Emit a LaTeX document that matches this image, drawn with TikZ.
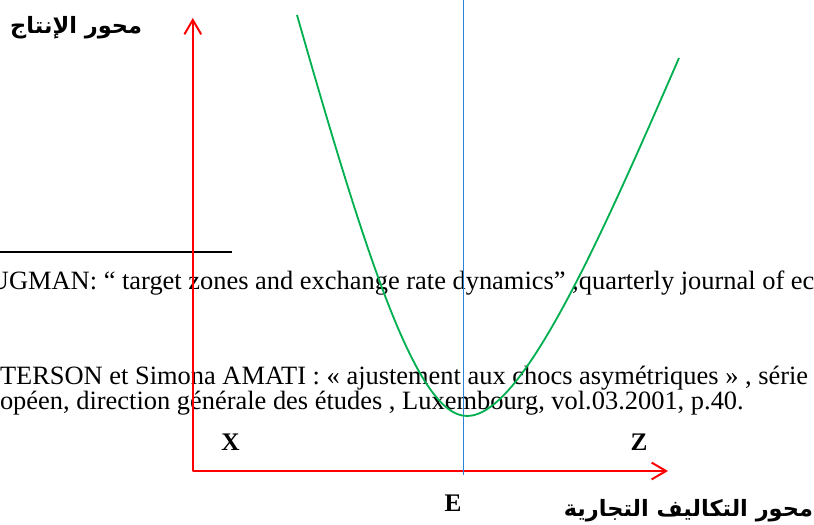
\documentclass[tikz,border=0pt]{standalone}
\usepackage{fontspec}
\setmainfont{Liberation Serif}
\newfontfamily\arabicfont[Script=Arabic]{DejaVu Sans}
\TeXXeTstate=1
\usetikzlibrary{arrows.meta, positioning}
\definecolor{AxisRed}{RGB}{255, 0, 0}
\definecolor{CurveGreen}{RGB}{0, 176, 80}
\definecolor{GuideBlue}{RGB}{40, 130, 215}

\begin{document}
\begin{tikzpicture}[
    every node/.style={inner sep=0pt, outer sep=0pt},
    note/.style={anchor=base west, font=\fontsize{18.8}{22}\selectfont},
    letter/.style={font=\fontsize{18}{21}\selectfont\bfseries},
    axisname/.style={font=\fontsize{16}{20}\selectfont\arabicfont\bfseries},
    axis/.style={draw=AxisRed, line width=1.4pt, line join=round,
        {Straight Barb[length=3.6mm, width=4.2mm]}-{Straight Barb[length=3.6mm, width=4.2mm]}},
    curve/.style={draw=CurveGreen, line width=1.3pt},
    guide/.style={draw=GuideBlue, line width=1pt}
]
\useasboundingbox (0,0) rectangle (20.35,13.1);
\clip (0,0) rectangle (20.35,13.1);

% footnote text behind the graph
\draw[line width=1pt] (0,6.8) -- (5.8,6.8);
\node[note] (ref1) at (-0.25,5.85) {UGMAN: “ target zones and exchange rate dynamics” ,quarterly journal of ec};
\node[note] (ref2) at (0,3.5) {TERSON et Simona AMATI : « ajustement aux chocs asymétriques » , série};
\node[note] (ref3) at (0,2.875) {opéen, direction générale des études , Luxembourg, vol.03.2001, p.40.};

% axes
\coordinate (O) at (4.82,1.325);
\coordinate (ytip) at (4.82,12.65);
\coordinate (xtip) at (16.70,1.325);
\draw[axis] (ytip) -- (O) -- (xtip);

% equilibrium line
\coordinate (Etop) at (11.59,13.1);
\coordinate (Ebot) at (11.59,1.225);
\draw[guide] (Etop) -- (Ebot);

% cost curve
\draw[curve] (7.425,12.725) .. controls (9.175,6.6) and (10.425,2.7) .. (11.675,2.7)
    .. controls (13.05,2.7) and (14.975,7.05) .. (16.975,11.65);

% labels
\node[letter] (X) at (5.76,2.05) {X};
\node[letter] (Z) at (15.975,2.05) {Z};
\node[letter] (E) at (11.325,0.525) {E};
\node[axisname, anchor=east] (yname) at (3.55,12.4) {\beginR محور الإنتاج\endR};
\node[axisname, anchor=east] (xname) at (20.325,0.33) {\beginR محور التكاليف التجارية\endR};
\end{tikzpicture}
\end{document}
